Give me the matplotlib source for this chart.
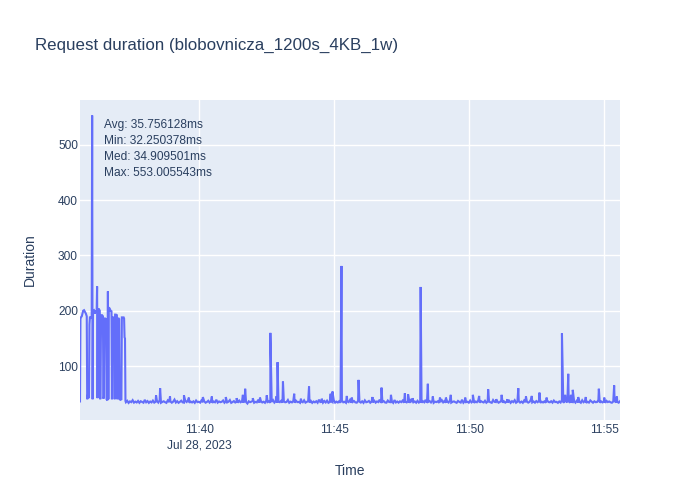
import numpy as np
import pandas as pd
import matplotlib
matplotlib.use("Agg")
import matplotlib.pyplot as plt

plt.rcParams["font.family"] = ["Liberation Sans", "DejaVu Sans"]

TEXT = "#2a3f5f"
BG = "#E5ECF6"
LINE = "#636efa"

START = pd.Timestamp("2023-07-28 11:35:35")
RUN_S = 1200

# burst at the beginning of the run: seconds from START, duration in ms
burst_s = [0, 1, 2, 4, 7, 9, 11, 13, 15, 16, 17, 19, 20, 21, 22, 24, 26, 27, 28,
           29, 31, 33, 35, 37, 38, 39, 40, 42, 44, 45, 47, 49, 51, 52, 53, 54,
           56, 58, 59, 61, 62, 63, 64, 66, 68, 70, 71, 72, 74, 76, 77, 78, 80,
           82, 83, 84, 86, 87, 88, 90, 92, 93, 95, 97, 98, 99, 100, 101]
burst_ms = [36, 185, 188, 190, 200, 201, 198, 195, 190, 40, 46, 52, 42, 175, 188,
            188, 186, 553, 40, 200, 201, 195, 200, 198, 244, 42, 203, 203, 200,
            40, 192, 192, 190, 41, 45, 186, 186, 185, 40, 38, 235, 40, 206, 204,
            200, 199, 40, 188, 188, 187, 40, 193, 193, 192, 40, 186, 186, 185,
            40, 39, 40, 188, 188, 188, 186, 152, 150, 37]

# steady state after the burst, one sample every 3 s from 102 s
BASE_FROM, BASE_STEP = 102, 3
base_ms = [
    34.6, 37.2, 33.4, 36.1, 34.8, 38.3, 33.9, 35.7, 34.2, 37.0,
    33.6, 36.4, 35.1, 33.8, 38.9, 34.5, 36.7, 33.5, 35.9, 34.3,
    37.6, 33.9, 35.4, 36.8, 34.0, 38.1, 33.7, 35.2, 36.3, 34.7,
    33.5, 37.9, 34.9, 36.0, 33.8, 35.6, 39.4, 34.1, 36.5, 33.6,
    35.3, 37.4, 34.4, 33.9, 36.9, 35.0, 38.6, 33.7, 35.8, 34.2,
    36.2, 33.5, 37.7, 34.8, 35.5, 33.9, 38.0, 34.6, 36.4, 33.8,
    35.1, 37.3, 34.0, 36.6, 33.6, 35.9, 34.5, 39.1, 33.9, 36.0,
    34.7, 35.4, 37.8, 33.7, 36.2, 34.3, 35.6, 38.5, 33.5, 34.9,
    36.7, 34.1, 35.3, 33.8, 37.5, 34.6, 36.1, 33.9, 38.2, 35.0,
    32.3, 36.3, 34.8, 35.7, 37.1, 33.7, 35.2, 34.4, 39.0, 33.9,
    36.8, 34.2, 35.5, 33.6, 37.6, 34.9, 36.0, 33.8, 35.4, 38.4,
    34.0, 36.5, 33.5, 35.8, 34.7, 37.2, 33.9, 36.3, 34.5, 35.1,
    38.7, 33.7, 35.6, 34.3, 36.9, 33.8, 37.4, 34.8, 35.2, 33.6,
    36.1, 34.6, 38.1, 33.9, 35.3, 36.6, 34.0, 37.0, 33.5, 35.9,
    34.4, 36.4, 33.7, 39.2, 34.9, 35.5, 33.8, 36.8, 34.2, 37.5,
    33.6, 35.0, 36.2, 34.7, 38.3, 33.9, 35.7, 34.1, 36.5, 33.7,
    37.8, 34.5, 35.4, 33.6, 36.0, 34.8, 38.8, 33.9, 35.1, 36.7,
    34.3, 33.8, 37.1, 35.6, 34.0, 36.3, 33.5, 38.0, 34.6, 35.3,
    36.9, 33.7, 35.8, 34.4, 37.3, 33.9, 36.1, 34.9, 39.3, 33.6,
    35.2, 36.6, 34.1, 33.8, 37.7, 35.0, 34.7, 36.4, 33.5, 38.5,
    34.2, 35.9, 33.9, 36.2, 34.8, 37.6, 33.7, 35.5, 34.3, 36.8,
    33.6, 38.2, 35.1, 34.6, 36.0, 33.8, 37.2, 34.0, 35.7, 33.9,
    36.5, 34.5, 38.9, 33.7, 35.3, 36.7, 34.2, 37.4, 33.6, 35.6,
    34.9, 36.3, 33.5, 35.0, 38.4, 34.4, 36.9, 33.8, 35.8, 34.1,
    37.9, 33.9, 35.4, 36.1, 34.7, 33.6, 37.0, 35.2, 34.0, 39.1,
    33.7, 36.4, 34.8, 35.5, 33.8, 37.7, 34.3, 36.2, 33.5, 35.9,
    34.6, 38.0, 33.9, 36.6, 35.1, 34.2, 37.3, 33.7, 35.7, 36.0,
    34.5, 33.6, 38.6, 35.3, 34.9, 36.8, 33.8, 35.0, 37.5, 34.1,
    36.3, 33.9, 35.6, 34.4, 37.1, 33.5, 36.5, 34.8, 38.3, 33.7,
    35.4, 36.9, 34.0, 35.8, 33.6, 37.8, 34.6, 36.1, 33.9, 35.2,
    39.4, 34.3, 35.9, 33.8, 36.7, 34.7, 37.2, 33.6, 35.5, 34.2,
    36.2, 33.7, 38.1, 35.0, 34.5, 36.4, 33.9, 37.6, 34.9, 35.3,
    33.5, 36.0, 34.1, 38.7, 33.8, 35.8, 36.6, 34.4, 37.0, 33.6,
    35.1, 34.8, 36.8, 33.9, 37.4, 34.2, 35.6, 33.7, 38.2, 34.6,
    36.5, 33.5, 35.4, 34.0, 37.9, 35.7, 33.8, 36.3, 34.7, 35.0,
    38.8, 33.9, 36.1, 34.3, 35.5, 33.6, 37.1, 34.9, 36.0, 34.5,
    33.7, 35.9, 37.3, 34.1, 35.2, 33.8, 36.4,
]

# isolated slow requests after the burst
spike_s = [169, 178, 200, 231, 242, 273, 293, 324, 348, 362, 367, 384, 400, 415,
           423, 436, 439, 451, 476, 491, 509, 537, 557, 561, 581, 593, 604, 619,
           650, 670, 691, 722, 729, 739, 757, 773, 784, 800, 813, 824, 856, 873,
           887, 907, 925, 937, 950, 974, 991, 1004, 1021, 1037, 1071, 1078, 1085,
           1091, 1095, 1107, 1124, 1153, 1165, 1187, 1193]
spike_ms = [47, 60, 45, 47, 43, 44, 45, 44, 42, 48, 59, 42, 43, 47,
            160, 45, 107, 72, 50, 41, 63, 41, 50, 54, 281, 46, 43, 75,
            44, 61, 48, 51, 49, 42, 243, 68, 45, 43, 43, 48, 43, 48,
            46, 58, 40, 48, 40, 60, 45, 46, 52, 43, 159, 48, 86,
            48, 57, 44, 44, 59, 43, 65, 45]

stats = [("Avg", "35.756128"), ("Min", "32.250378"),
         ("Med", "34.909501"), ("Max", "553.005543")]

tick_times = ["11:40", "11:45", "11:50", "11:55"]

base_s = BASE_FROM + BASE_STEP * np.arange(len(base_ms))
secs = np.concatenate([burst_s, base_s, spike_s])
vals = np.concatenate([burst_ms, base_ms, spike_ms])
order = np.argsort(secs, kind="stable")
times = START + pd.to_timedelta(secs[order], unit="s")

fig = plt.figure(figsize=(7, 5), dpi=100)
ax = fig.add_axes([80 / 700, 80 / 500, 540 / 700, 320 / 500])
ax.set_facecolor(BG)
ax.plot(times.to_numpy(), vals[order], color=LINE, lw=1.5, solid_joinstyle="miter")

ax.set_xlim(START, START + pd.Timedelta(seconds=RUN_S))
ax.set_ylim(2.5, 581)

ticks = [pd.Timestamp(f"2023-07-28 {t}") for t in tick_times]
ax.set_xticks(ticks)
ax.set_xticklabels([tick_times[0] + "\nJul 28, 2023"] + tick_times[1:],
                   linespacing=1.35)
ax.set_yticks([100, 200, 300, 400, 500])
ax.tick_params(length=0, labelsize=8.6, colors=TEXT)
ax.tick_params(axis="x", pad=3)
ax.tick_params(axis="y", pad=1.5)
ax.grid(color="white", lw=1)
ax.set_axisbelow(True)
for s in ax.spines.values():
    s.set_visible(False)

ax.text(24 / 540, 1 - 19 / 320,
        "\n".join(f"{k}: {v}ms" for k, v in stats),
        transform=ax.transAxes, ha="left", va="top", fontsize=8.6,
        color=TEXT, linespacing=1.45)

fig.text(35 / 700, 1 - 45 / 500, "Request duration (blobovnicza_1200s_4KB_1w)",
         ha="left", va="center", fontsize=12.2, color=TEXT)
fig.text(30 / 700, 1 - 260 / 500, "Duration", rotation=90,
         ha="center", va="center", fontsize=10, color=TEXT)
fig.text(350 / 700, 1 - 471 / 500, "Time", ha="center", va="center",
         fontsize=10, color=TEXT)

fig.savefig("out.png", dpi=100, facecolor="white")
